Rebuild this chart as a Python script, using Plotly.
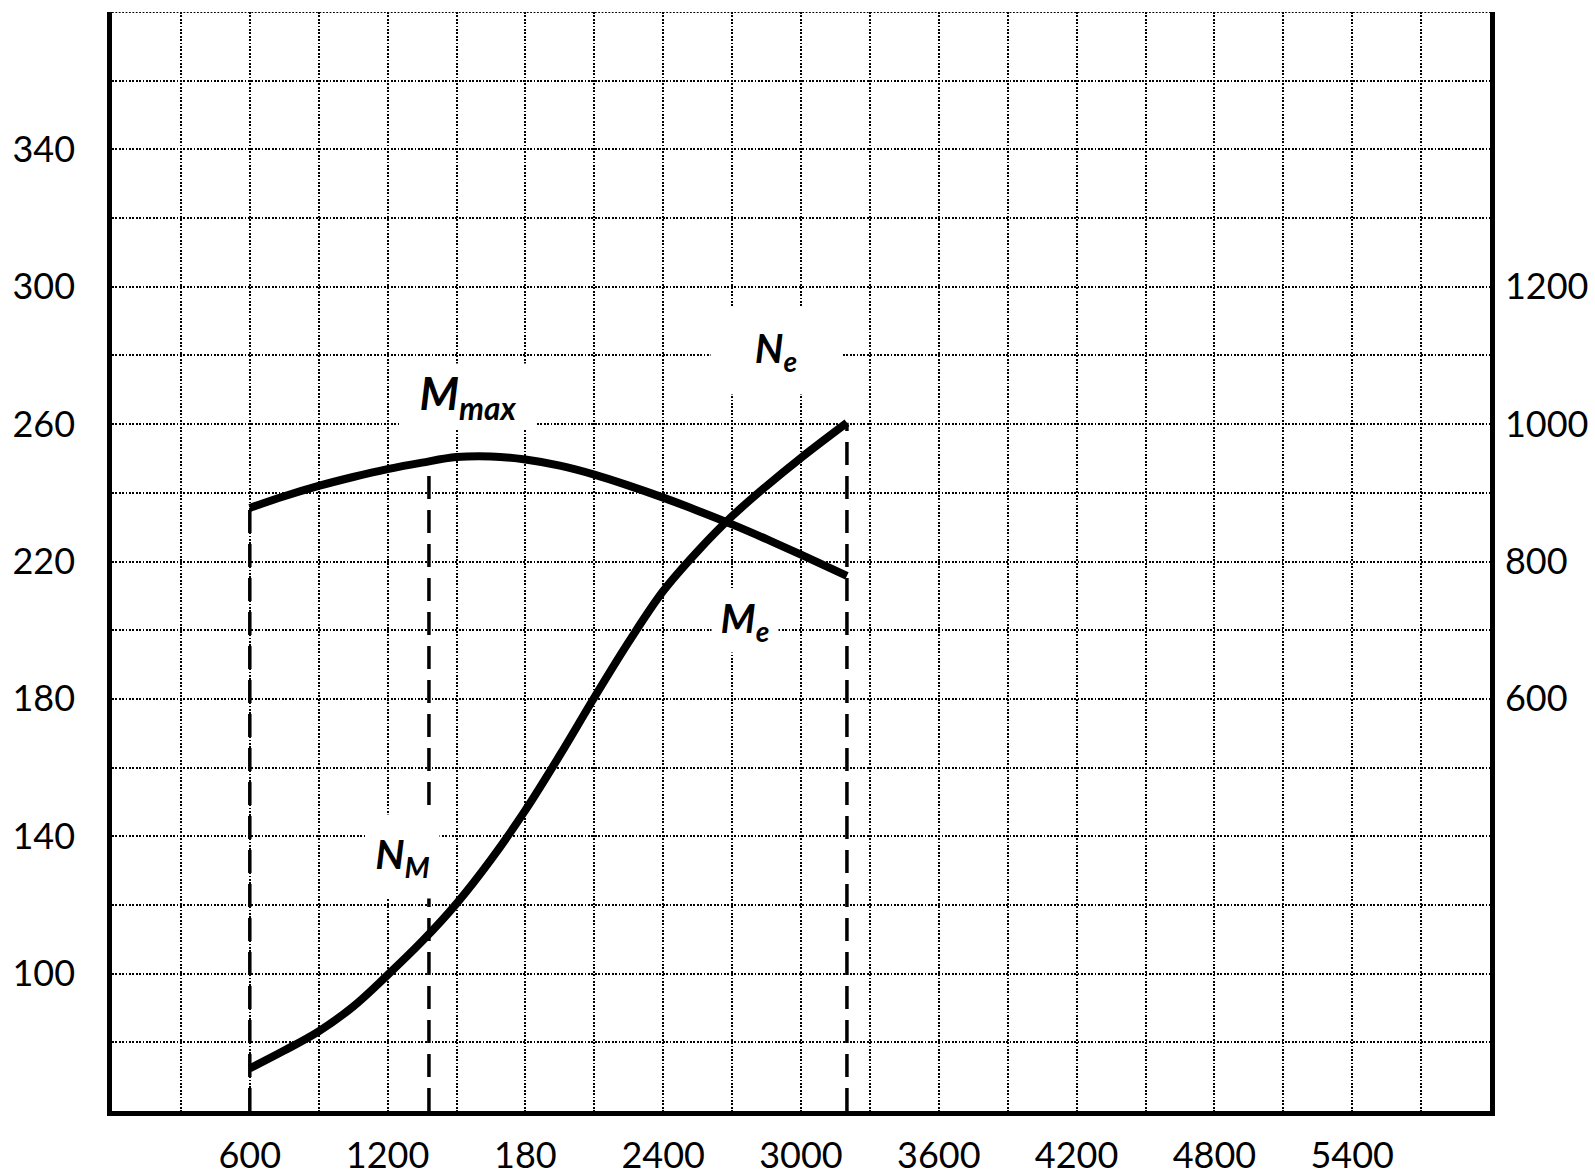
import plotly.graph_objects as go

# ---- data ----
rpm = [600, 750, 900, 1050, 1200, 1350, 1500, 1650, 1800, 1950,
       2100, 2250, 2400, 2550, 2700, 2850, 3000, 3200]
Me = [235.6, 239.0, 242.0, 244.6, 246.9, 248.8, 250.4, 250.6, 249.7, 247.9,
      245.3, 242.1, 238.6, 234.8, 230.8, 226.5, 222.0, 215.8]
Ne = [62, 88, 116, 152, 198, 247, 302, 366, 438, 518,
      602, 683, 757, 815, 866, 910, 951, 1002]
n_M = 1380          # rpm of maximum torque (dashed N_M line)
Me_at_nM = 249.1    # torque where the N_M line meets the Me curve

x_tick_vals = [600, 1200, 1800, 2400, 3000, 3600, 4200, 4800, 5400]
x_tick_text = ["600", "1200", "180", "2400", "3000", "3600", "4200", "4800", "5400"]
y_left_ticks = [100, 140, 180, 220, 260, 300, 340]
y_right_ticks = [600, 800, 1000, 1200]

X_RANGE = [0, 6000]
X_GRID_STEP = 300
YL_RANGE = [60, 380]
YL_GRID_STEP = 20
YR_RANGE = [0, 1600]

FONT = "Lato, 'Open Sans', sans-serif"

fig = go.Figure()

# vertical dashed reference lines (from axis bottom up to the curve)
dash_refs = [
    (rpm[0], Me[0], "y"),
    (n_M, Me_at_nM, "y"),
    (rpm[-1], Ne[-1], "y2"),
]
for xv, top, ax in dash_refs:
    base = YL_RANGE[0] if ax == "y" else YR_RANGE[0]
    fig.add_trace(go.Scatter(
        x=[xv, xv], y=[base, top], mode="lines", yaxis=ax,
        line=dict(color="black", width=3.5, dash="23px,11px"),
        hoverinfo="skip", showlegend=False,
    ))

# torque curve Me (left axis)
fig.add_trace(go.Scatter(
    x=rpm, y=Me, mode="lines", yaxis="y",
    line=dict(color="black", width=8, shape="spline", smoothing=1.0),
    showlegend=False, hoverinfo="skip",
))
# power curve Ne (right axis)
fig.add_trace(go.Scatter(
    x=rpm, y=Ne, mode="lines", yaxis="y2",
    line=dict(color="black", width=8, shape="spline", smoothing=1.0),
    showlegend=False, hoverinfo="skip",
))

# grid tick arrays
x_grid = list(range(X_RANGE[0], X_RANGE[1] + 1, X_GRID_STEP))
x_text = [x_tick_text[x_tick_vals.index(v)] if v in x_tick_vals else "" for v in x_grid]
yl_grid = list(range(YL_RANGE[0], YL_RANGE[1] + 1, YL_GRID_STEP))
yl_text = [str(v) if v in y_left_ticks else "" for v in yl_grid]

labels = [
    dict(text="<b><i>M<sub>max</sub></i></b>", x=1550, y=268.1, w=136, h=65, size=45),
    dict(text="<b><i>N<sub>e</sub></i></b>", x=2890, y=281.2, w=130, h=86, size=40),
    dict(text="<b><i>M<sub>e</sub></i></b>", x=2755, y=202.7, w=66, h=62, size=40),
    dict(text="<b><i>N<sub>M</sub></i></b>", x=1265, y=134.1, w=73, h=83, size=41),
]
for lb in labels:
    fig.add_annotation(
        x=lb["x"], y=lb["y"], xref="x", yref="y", text=lb["text"], showarrow=False,
        font=dict(family=FONT, size=lb["size"], color="black"),
        bgcolor="white", width=lb["w"], height=lb["h"], borderpad=0,
    )

GRID = dict(gridcolor="black", gridwidth=1.8, griddash="1.8px,1.6px")

# dotted top border (top grid line)
fig.add_shape(type="line", xref="paper", yref="y", x0=0, x1=1, y0=YL_RANGE[1], y1=YL_RANGE[1],
              line=dict(color="black", width=1.8, dash="1.8px,1.6px"), layer="below")

fig.update_layout(
    width=1595, height=1176,
    margin=dict(l=112, r=105, t=12, b=65, autoexpand=False),
    paper_bgcolor="white", plot_bgcolor="white",
    showlegend=False, hovermode=False,
    font=dict(family=FONT, size=36, color="black"),
    xaxis=dict(
        range=X_RANGE, tickmode="array", tickvals=x_grid, ticktext=x_text,
        showgrid=True, **GRID, zeroline=False,
        showline=True, linecolor="black", linewidth=4.5, ticks="",
        ticklabelstandoff=9, automargin=False,
    ),
    yaxis=dict(
        range=YL_RANGE, tickmode="array", tickvals=yl_grid, ticktext=yl_text,
        showgrid=True, **GRID, zeroline=False,
        showline=True, linecolor="black", linewidth=4.5, ticks="",
        ticklabelstandoff=25, automargin=False,
    ),
    yaxis2=dict(
        range=YR_RANGE, overlaying="y", side="right", tickmode="array",
        tickvals=y_right_ticks, ticktext=[str(v) for v in y_right_ticks],
        showgrid=False, zeroline=False,
        showline=True, linecolor="black", linewidth=4.5, ticks="",
        ticklabelstandoff=3, automargin=False,
    ),
)

fig.write_html("out.html", config={"displayModeBar": False})
